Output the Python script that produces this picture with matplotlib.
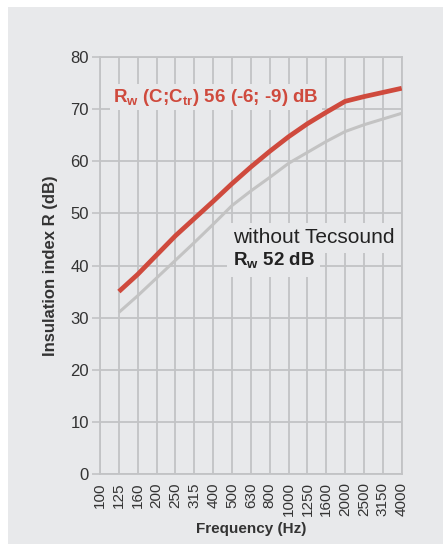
import matplotlib
matplotlib.use("Agg")
import matplotlib.pyplot as plt
from matplotlib.patches import Rectangle

# 1/3 octave bands
freqs = ['100', '125', '160', '200', '250', '315', '400', '500', '630', '800',
         '1000', '1250', '1600', '2000', '2500', '3150', '4000']
# curves start at 125 Hz
with_tecsound = [35.0, 38.3, 42.0, 45.7, 49.0, 52.3, 55.7, 58.9, 61.9, 64.7,
                 67.2, 69.4, 71.5, 72.4, 73.2, 74.0]
without_tecsound = [31.0, 34.2, 37.6, 41.0, 44.4, 47.9, 51.5, 54.3, 56.9, 59.6,
                    61.7, 63.8, 65.7, 67.0, 68.1, 69.2]
y_ticks = [0, 10, 20, 30, 40, 50, 60, 70, 80]

label_with = r'R$_\mathbf{w}$ (C;C$_\mathbf{tr}$) 56 (-6; -9) dB'
label_without = 'without Tecsound'
label_without_rw = r'R$_\mathbf{w}$ 52 dB'

PANEL = '#e8e9eb'
GRID = '#c2c3c5'
RED = '#cf4a3d'
GREY = '#c3c3c3'
TEXT = '#333333'

plt.rcParams['font.family'] = ['Liberation Sans', 'DejaVu Sans']
plt.rcParams['mathtext.fontset'] = 'custom'
plt.rcParams['mathtext.bf'] = 'Liberation Sans:bold'
plt.rcParams['mathtext.rm'] = 'Liberation Sans'

fig = plt.figure(figsize=(4.45, 5.46), dpi=100)
fig.patch.set_facecolor('white')
fig.patches.append(Rectangle((8 / 445, 2 / 546), 435 / 445, 537 / 546,
                             transform=fig.transFigure, facecolor=PANEL,
                             edgecolor='none', zorder=-10))

ax = fig.add_axes([100 / 445, 72 / 546, 301.7 / 445, 417 / 546])
ax.set_facecolor(PANEL)

x = list(range(len(freqs)))
ax.plot(x[1:], without_tecsound, color=GREY, lw=2.2, solid_capstyle='butt', zorder=4)
ax.plot(x[1:], with_tecsound, color=RED, lw=3.4, solid_capstyle='butt', zorder=5)

ax.set_xlim(0, len(freqs) - 1)
ax.set_ylim(0, 80)
ax.set_xticks(x)
ax.set_xticklabels(freqs, rotation=90, fontsize=11, color=TEXT)
ax.set_yticks(y_ticks)
ax.set_yticklabels([str(v) for v in y_ticks], fontsize=12, color=TEXT)
ax.tick_params(axis='x', length=0, pad=6)
ax.tick_params(axis='y', length=6, width=1.2, color=GRID, pad=2)

ax.grid(True, color=GRID, lw=1.3, zorder=1)
ax.set_axisbelow(True)
for s in ax.spines.values():
    s.set_color(GRID)
    s.set_linewidth(1.3)

ax.set_xlabel('Frequency (Hz)', fontsize=11, fontweight='bold', color=TEXT, labelpad=4)
ax.set_ylabel('Insulation index R (dB)', fontsize=12, fontweight='bold', color=TEXT, labelpad=9)

ax.text(0.7, 72.3, label_with, fontsize=13.5, fontweight='bold', color=RED,
        va='center', ha='left', bbox=dict(facecolor=PANEL, edgecolor='none', pad=2), zorder=3)
ax.text(7.05, 45.3, label_without, fontsize=15, color='#222222',
        va='center', ha='left', bbox=dict(facecolor=PANEL, edgecolor='none', pad=4), zorder=3)
ax.text(7.05, 40.9, label_without_rw, fontsize=13.5, fontweight='bold', color='#222222',
        va='center', ha='left', bbox=dict(facecolor=PANEL, edgecolor='none', pad=4), zorder=3)

fig.savefig('out.png', dpi=100)
